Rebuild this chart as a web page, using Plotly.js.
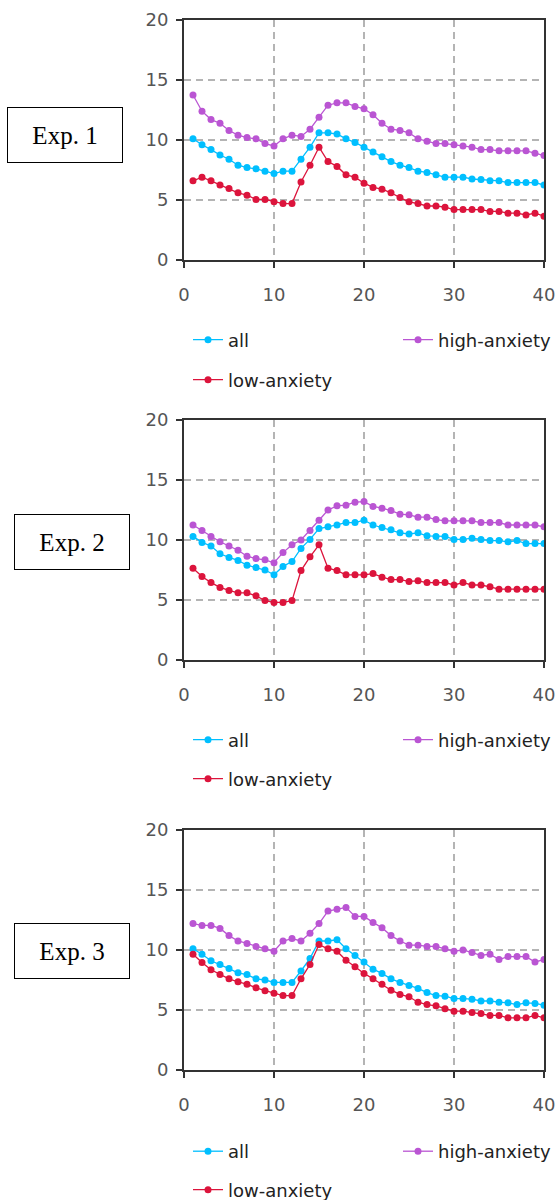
<!DOCTYPE html>
<html>
<head>
<meta charset="utf-8">
<script src="https://cdn.plot.ly/plotly-3.0.1.min.js"></script>
<style>
html,body{margin:0;padding:0;background:#fff;}
#chart{width:560px;height:1200px;}
</style>
</head>
<body>
<div id="chart"></div>
<script>
// x positions (trial index)
var trials = [1,2,3,4,5,6,7,8,9,10,11,12,13,14,15,16,17,18,19,20,21,22,23,24,25,26,27,28,29,30,31,32,33,34,35,36,37,38,39,40];

var seriesNames = ['all', 'high-anxiety', 'low-anxiety'];
var panelLabels = ['Exp. 1', 'Exp. 2', 'Exp. 3'];
var xTicks = [0, 10, 20, 30, 40];
var yTicks = [0, 5, 10, 15, 20];

// Exp. 1
var exp1All  = [10.1,9.6,9.2,8.75,8.4,7.9,7.7,7.6,7.4,7.2,7.4,7.4,8.4,9.4,10.6,10.6,10.5,10.1,9.8,9.4,9.0,8.6,8.2,7.9,7.7,7.4,7.3,7.1,6.9,6.9,6.9,6.75,6.7,6.6,6.6,6.45,6.45,6.45,6.45,6.25];
var exp1High = [13.75,12.4,11.7,11.4,10.8,10.4,10.2,10.1,9.7,9.5,10.1,10.4,10.3,10.9,11.9,12.9,13.1,13.1,12.8,12.6,12.1,11.4,10.9,10.8,10.6,10.1,9.9,9.7,9.7,9.6,9.5,9.4,9.2,9.2,9.1,9.1,9.1,9.1,8.9,8.7];
var exp1Low  = [6.6,6.9,6.6,6.25,5.95,5.6,5.4,5.05,5.05,4.85,4.7,4.7,6.5,7.9,9.4,8.2,7.8,7.1,6.9,6.4,6.05,5.9,5.6,5.2,4.85,4.7,4.5,4.5,4.4,4.2,4.2,4.2,4.2,4.05,4.05,3.9,3.9,3.75,3.9,3.65];

// Exp. 2
var exp2All  = [10.3,9.8,9.5,8.85,8.55,8.3,7.9,7.7,7.5,7.1,7.8,8.2,9.3,10.05,10.95,11.1,11.25,11.45,11.45,11.65,11.25,11.05,10.85,10.6,10.5,10.6,10.35,10.3,10.3,10.05,10.05,10.15,10.05,9.95,9.95,9.85,9.95,9.7,9.7,9.7];
var exp2High = [11.25,10.8,10.3,9.85,9.5,9.15,8.65,8.45,8.35,8.1,8.95,9.6,10.0,10.8,11.65,12.5,12.85,12.9,13.15,13.2,12.8,12.65,12.45,12.15,12.1,11.9,11.9,11.7,11.6,11.6,11.6,11.6,11.45,11.45,11.45,11.25,11.25,11.25,11.25,11.1];
var exp2Low  = [7.65,6.95,6.45,6.05,5.8,5.6,5.6,5.35,4.95,4.8,4.8,4.95,7.45,8.6,9.6,7.65,7.45,7.1,7.1,7.1,7.2,6.9,6.7,6.7,6.55,6.6,6.45,6.45,6.45,6.25,6.45,6.25,6.25,6.1,5.9,5.9,5.9,5.9,5.9,5.9];

// Exp. 3
var exp3All  = [10.1,9.65,9.1,8.8,8.45,8.1,7.95,7.6,7.5,7.3,7.3,7.3,8.25,9.3,10.75,10.75,10.85,10.1,9.55,9.0,8.4,8.05,7.6,7.3,7.05,6.8,6.45,6.2,6.15,5.95,5.95,5.9,5.75,5.75,5.65,5.6,5.45,5.6,5.55,5.4];
var exp3High = [12.2,12.05,12.05,11.8,11.2,10.75,10.55,10.3,10.1,9.9,10.75,10.95,10.75,11.4,12.2,13.25,13.4,13.55,12.8,12.8,12.3,11.85,11.2,10.75,10.4,10.4,10.3,10.3,10.1,9.9,10.0,9.8,9.55,9.65,9.2,9.45,9.45,9.45,9.0,9.2];
var exp3Low  = [9.65,8.95,8.35,7.95,7.6,7.35,7.15,6.85,6.6,6.4,6.2,6.2,7.6,8.8,10.45,10.1,9.9,9.15,8.6,8.05,7.6,7.15,6.65,6.3,6.1,5.65,5.45,5.35,5.1,4.9,4.9,4.8,4.7,4.55,4.55,4.35,4.35,4.35,4.55,4.35];

var seriesColors = ['#00bfff', '#ba55d3', '#dc143c'];

var panels = [
  [exp1All, exp1High, exp1Low],
  [exp2All, exp2High, exp2Low],
  [exp3All, exp3High, exp3Low]
];

var W = 560, H = 1200;
var M = {l: 184, r: 16, t: 20, b: 130, autoexpand: false};
var PW = W - M.l - M.r, PH = H - M.t - M.b;
function px2x(px){ return (px - M.l) / PW; }
function py2y(py){ return (H - M.b - py) / PH; }

// panel pixel geometry (top, bottom)
var panelPix = [[20, 260], [420, 660], [830, 1070]];
var boxCenters = [[65, 134.5], [71.5, 542], [71.5, 951]];
// legend item pixel positions: [left, centre-y] for all / high-anxiety / low-anxiety
var legendRowY = [[340, 380], [740, 779], [1151.5, 1190]];
var legendColX = [188, 398, 188];

var traces = [];
var layout = {
  width: W, height: H,
  margin: M,
  paper_bgcolor: '#fff', plot_bgcolor: '#fff',
  showlegend: true,
  font: {family: 'DejaVu Sans, Verdana, sans-serif', size: 18, color: '#444'},
  annotations: []
};

for (var p = 0; p < 3; p++) {
  var sfx = p === 0 ? '' : String(p + 1);
  var dom = [py2y(panelPix[p][1]), py2y(panelPix[p][0])];
  for (var s = 0; s < 3; s++) {
    var idx = 3 * p + s + 1;
    var legName = 'legend' + (idx === 1 ? '' : String(idx));
    traces.push({
      type: 'scatter', mode: 'lines+markers',
      x: trials, y: panels[p][s],
      name: seriesNames[s],
      xaxis: 'x' + sfx, yaxis: 'y' + sfx,
      legend: legName,
      line: {color: seriesColors[s], width: 1.3},
      marker: {color: seriesColors[s], size: 7}
    });
    layout[legName] = {
      orientation: 'h', xanchor: 'left', yanchor: 'middle',
      x: px2x(legendColX[s]),
      y: py2y(s === 2 ? legendRowY[p][1] : legendRowY[p][0]),
      borderwidth: 0, bgcolor: 'rgba(0,0,0,0)',
      font: {family: 'DejaVu Sans, Verdana, sans-serif', size: 18, color: '#222'},
      itemwidth: 30
    };
  }
  var axCommon = {
    showline: true, mirror: true, linecolor: '#333', linewidth: 2,
    ticks: 'outside', ticklen: 6, tickwidth: 1.5, tickcolor: '#333',
    showgrid: true, gridcolor: '#b4b4b4', gridwidth: 1.3, griddash: '7px,5px',
    zeroline: false,
    tickfont: {family: 'DejaVu Sans, Verdana, sans-serif', size: 18, color: '#555'}
  };
  layout['xaxis' + sfx] = Object.assign({}, axCommon, {
    anchor: 'y' + sfx, domain: [0, 1], range: [0, 40],
    tickvals: xTicks, ticklabelstandoff: 11
  });
  layout['yaxis' + sfx] = Object.assign({}, axCommon, {
    anchor: 'x' + sfx, domain: dom, range: [0, 20],
    tickvals: yTicks, ticklabelstandoff: 4
  });

  layout.annotations.push({
    xref: 'paper', yref: 'paper',
    x: px2x(boxCenters[p][0]), y: py2y(boxCenters[p][1]),
    xanchor: 'center', yanchor: 'middle',
    text: panelLabels[p], showarrow: false,
    font: {family: 'Liberation Serif, Times New Roman, serif', size: 25, color: '#000'},
    width: 112, height: 52, align: 'center', valign: 'middle',
    bordercolor: '#000', borderwidth: 1, borderpad: 1, bgcolor: '#fff'
  });
}

Plotly.newPlot('chart', traces, layout, {staticPlot: true, displayModeBar: false});
</script>
</body>
</html>
